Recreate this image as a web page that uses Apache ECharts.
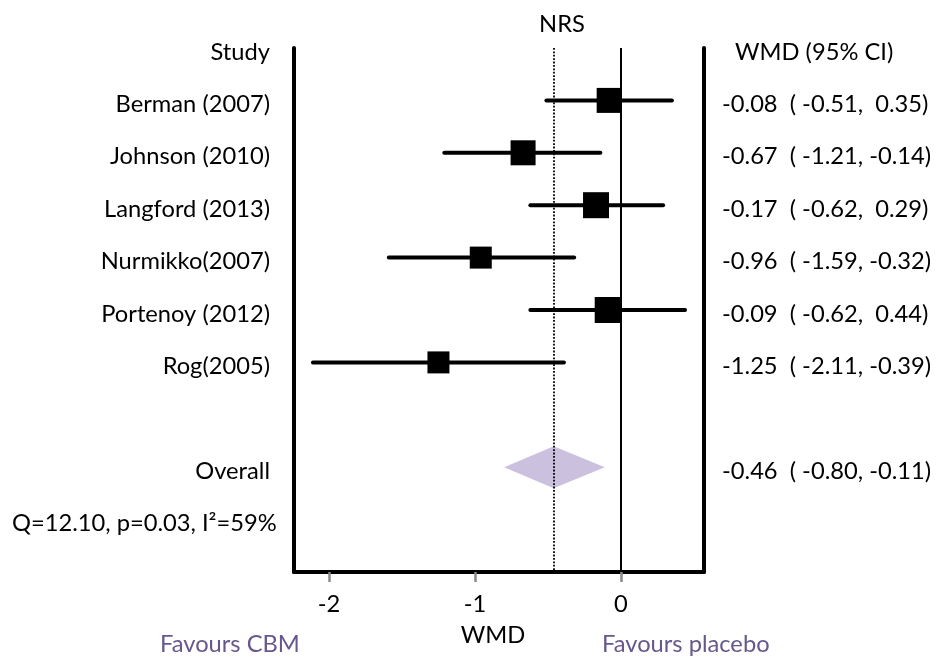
<!DOCTYPE html>
<html>
<head>
<meta charset="utf-8">
<script src="https://cdn.jsdelivr.net/npm/echarts@6/dist/echarts.min.js"></script>
<style>
  html, body { margin: 0; padding: 0; background: #fff; }
  #chart { width: 937px; height: 657px; }
</style>
</head>
<body>
<div id="chart"></div>
<script>
// Forest plot: weighted mean difference in NRS pain score, CBM vs placebo
const studies = ['Berman (2007)', 'Johnson (2010)', 'Langford (2013)', 'Nurmikko(2007)', 'Portenoy (2012)', 'Rog(2005)'];
const wmd = [-0.08, -0.67, -0.17, -0.96, -0.09, -1.25];
const ciLow = [-0.51, -1.21, -0.62, -1.59, -0.62, -2.11];
const ciHigh = [0.35, -0.14, 0.29, -0.32, 0.44, -0.39];

const overallLabel = 'Overall';
const overallWmd = -0.46;
const overallLow = -0.80;
const overallHigh = -0.11;

const heterogeneity = 'Q=12.10, p=0.03, I\u00B2=59%';
const xTicks = [-2, -1, 0];

// layout rows (0 = header row, studies 1..6, pooled estimate on 8, heterogeneity on 9)
const studyRows = studies.map((_, i) => i + 1);
const overallRow = 8;
const hetRow = 9;

// marker box sizes in px (study weight)
const boxPx = [25, 25, 26, 22, 26, 22];

const FONT = 'Lato';
const FS = 23.7;
const PURPLE = '#67578c';
// text rows sit slightly below the marker rows
const TEXT_DROP = 0.075;

function fmt(v) { return (v < 0 ? '' : ' ') + v.toFixed(2); }
function ciText(e, lo, hi) { return fmt(e) + '  ( ' + fmt(lo) + ', ' + fmt(hi) + ')'; }

const leftLabels = { 0: 'Study', [overallRow]: overallLabel };
const rightLabels = { 0: '{h|WMD (95% CI)}', [overallRow]: ciText(overallWmd, overallLow, overallHigh) };
studies.forEach((s, i) => {
  leftLabels[studyRows[i]] = s;
  rightLabels[studyRows[i]] = ciText(wmd[i], ciLow[i], ciHigh[i]);
});

const studyData = studies.map((_, i) => [wmd[i], ciLow[i], ciHigh[i], studyRows[i]]);

const chart = echarts.init(document.getElementById('chart'), null, { renderer: 'canvas' });

const txt = { fontSize: FS, fontFamily: FONT, color: '#000' };
function rowAxis(extra, shift) {
  return Object.assign({
    type: 'value', min: 0 - shift, max: 10 - shift, inverse: true,
    splitLine: { show: false }, axisTick: { show: false },
    axisLine: { show: false, onZero: false }
  }, extra);
}
const border = { show: true, onZero: false, lineStyle: { color: '#000', width: 4 } };

chart.setOption({
  animation: false,
  backgroundColor: '#fff',
  textStyle: { fontFamily: FONT },
  grid: { left: 294, right: 233, top: 48, bottom: 85, containLabel: false, outerBoundsMode: 'none' },
  xAxis: {
    type: 'value', min: -2.24, max: 0.57,
    axisLine: { onZero: false, lineStyle: { color: '#000', width: 4 } },
    axisTick: { customValues: xTicks, length: 10, lineStyle: { color: '#8a8a8a', width: 2.5 } },
    axisLabel: Object.assign({ customValues: xTicks, margin: 20 }, txt),
    splitLine: { show: false },
    name: 'WMD', nameLocation: 'middle', nameGap: 51,
    nameTextStyle: Object.assign({ padding: [0, 12, 0, 0] }, txt)
  },
  yAxis: [
    // data rows + left border
    rowAxis({ position: 'left', axisLine: border, axisLabel: { show: false } }, 0),
    // study names
    rowAxis({
      position: 'left',
      axisLabel: Object.assign({
        customValues: [0].concat(studyRows, [overallRow]),
        formatter: v => leftLabels[Math.round(v)] || '',
        margin: 24
      }, txt)
    }, TEXT_DROP),
    // effect sizes + right border
    rowAxis({
      position: 'right', axisLine: border,
      axisLabel: Object.assign({
        customValues: [0].concat(studyRows, [overallRow]),
        formatter: v => rightLabels[Math.round(v)] || '',
        margin: 18,
        rich: { h: Object.assign({ padding: [0, 0, 0, 13] }, txt) }
      }, txt)
    }, TEXT_DROP),
    // heterogeneity statistics
    rowAxis({
      position: 'left',
      axisLabel: Object.assign({
        customValues: [hetRow],
        formatter: () => heterogeneity,
        align: 'left', margin: 282
      }, txt)
    }, TEXT_DROP)
  ],
  graphic: [
    { type: 'text', x: 562, y: 24, style: { text: 'NRS', font: FS + 'px ' + FONT, fill: '#000', align: 'center', verticalAlign: 'middle' } },
    { type: 'text', x: 160, y: 644, style: { text: 'Favours CBM', font: FS + 'px ' + FONT, fill: PURPLE, align: 'left', verticalAlign: 'middle' } },
    { type: 'text', x: 602, y: 644, style: { text: 'Favours placebo', font: FS + 'px ' + FONT, fill: PURPLE, align: 'left', verticalAlign: 'middle' } }
  ],
  series: [
    {
      // reference lines: no effect and pooled estimate
      type: 'line', data: [], z: 1, silent: true, yAxisIndex: 0,
      markLine: {
        symbol: 'none', silent: true, label: { show: false },
        data: [
          { xAxis: 0, lineStyle: { color: '#000', width: 2, type: 'solid' } },
          { xAxis: overallWmd, lineStyle: { color: '#000', width: 1.8, type: [1.8, 1.6] } }
        ]
      }
    },
    {
      // study estimates with 95% CI
      type: 'custom', z: 3, silent: true, yAxisIndex: 0,
      data: studyData,
      renderItem: function (params, api) {
        const e = api.coord([api.value(0), api.value(3)]);
        const a = api.coord([api.value(1), api.value(3)]);
        const b = api.coord([api.value(2), api.value(3)]);
        const s = boxPx[params.dataIndex];
        return {
          type: 'group',
          children: [
            { type: 'line', shape: { x1: a[0], y1: a[1], x2: b[0], y2: b[1] }, style: { stroke: '#000', lineWidth: 4, lineCap: 'round' } },
            { type: 'rect', shape: { x: e[0] - s / 2, y: e[1] - s / 2, width: s, height: s }, style: { fill: '#000' } }
          ]
        };
      }
    },
    {
      // pooled estimate diamond
      type: 'custom', z: 3, silent: true, yAxisIndex: 0,
      data: [[overallWmd, overallLow, overallHigh, overallRow]],
      renderItem: function (params, api) {
        const row = api.value(3);
        const l = api.coord([api.value(1), row]);
        const r = api.coord([api.value(2), row]);
        const top = api.coord([api.value(0), row - 0.4]);
        const bot = api.coord([api.value(0), row + 0.4]);
        return {
          type: 'polygon',
          shape: { points: [l, top, r, bot] },
          style: { fill: '#cbc1de' }
        };
      }
    }
  ]
});
</script>
</body>
</html>
